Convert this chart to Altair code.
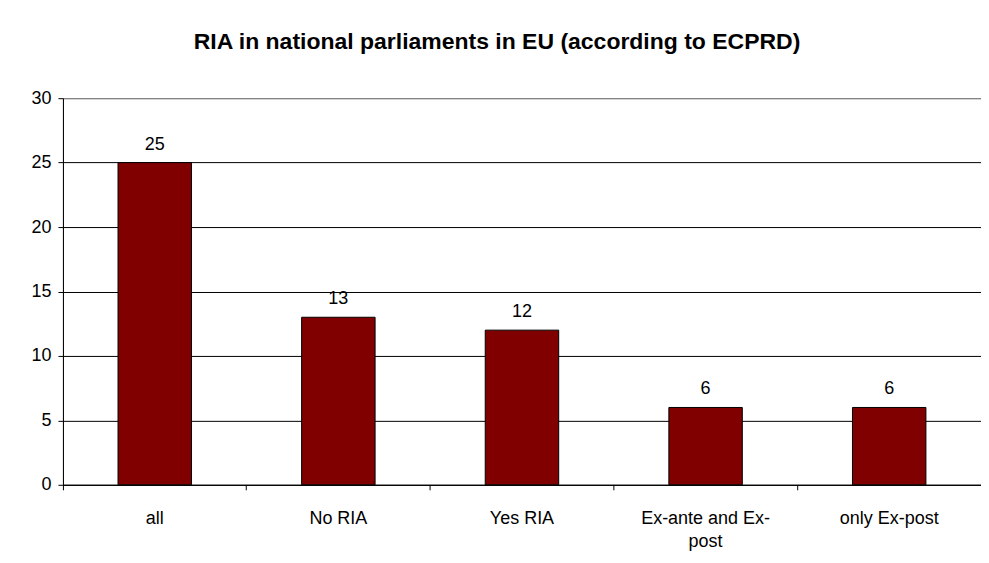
import altair as alt
import pandas as pd

categories = ["all", "No RIA", "Yes RIA", "Ex-ante and Ex-post", "only Ex-post"]
values = [25, 13, 12, 6, 6]
y_ticks = [0, 5, 10, 15, 20, 25, 30]
title_text = "RIA in national parliaments in EU (according to ECPRD)"

df = pd.DataFrame({"category": categories, "count": values})
FONT = "Liberation Sans"

xscale = alt.Scale(domain=categories, paddingInner=0, paddingOuter=0)
yscale = alt.Scale(domain=[0, 30], nice=False)

label_expr = ("datum.label == 'Ex-ante and Ex-post' ? ['Ex-ante and Ex-', 'post'] : datum.label")

bars = alt.Chart(df).mark_bar(
    width={"band": 0.4}, color="#800000", stroke="black", strokeWidth=1
).encode(
    x=alt.X("category:N", scale=xscale, sort=categories, title=None,
            axis=alt.Axis(orient="bottom", labelAngle=0, ticks=False, domain=True,
                          domainColor="black", labelFont=FONT, labelFontSize=18,
                          labelColor="black", labelPadding=25, labelExpr=label_expr,
                          labelLineHeight=23)),
    y=alt.Y("count:Q", scale=yscale, title=None,
            axis=alt.Axis(values=y_ticks, grid=True,
                          gridColor={"condition": {"test": "datum.value == 30", "value": "#808080"},
                                     "value": "black"},
                          gridWidth=1,
                          domainColor="black", tickColor="black", tickSize=5,
                          labelFont=FONT, labelFontSize=18, labelColor="black",
                          labelPadding=7)),
)

text = alt.Chart(df).mark_text(
    baseline="bottom", dy=-9, font=FONT, fontSize=18, color="black"
).encode(
    x=alt.X("category:N", scale=xscale, sort=categories, title=None,
            axis=alt.Axis(orient="bottom", labels=False, domain=False, ticks=True,
                          tickColor="black", tickSize=5, bandPosition=0)),
    y=alt.Y("count:Q", scale=yscale),
    text="count:Q",
)

chart = alt.layer(bars, text).resolve_axis(x="independent").properties(
    width=919, height=387,
    title=alt.TitleParams(title_text, font=FONT, fontSize=23, fontWeight="bold",
                          color="black", anchor="middle", offset=35, dx=-25),
    autosize=alt.AutoSizeParams(type="none"),
    padding={"left": 55, "top": 90, "right": 0, "bottom": 70},
    background="white",
).configure_view(stroke="#808080", strokeWidth=1)

chart.save("out.html", embed_options={"renderer": "svg", "actions": False})
